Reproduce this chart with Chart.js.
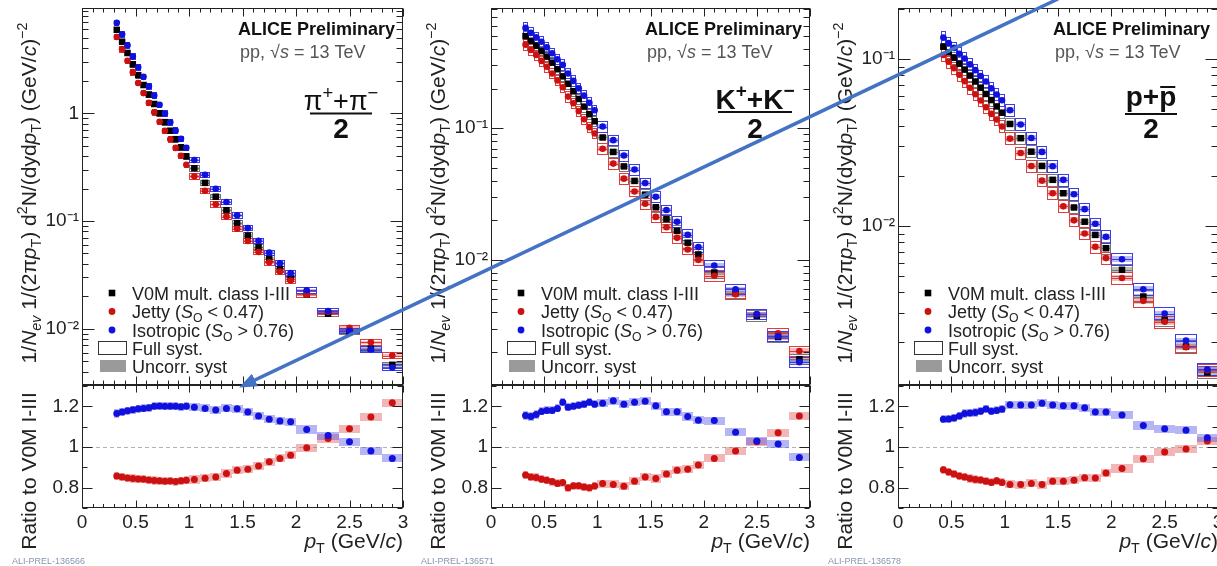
<!DOCTYPE html>
<html>
<head>
<meta charset="utf-8">
<script src="https://cdn.jsdelivr.net/npm/chart.js@4"></script>
<style>
  body { margin: 0; width: 1217px; height: 566px; overflow: hidden; background: #fff; position: relative; }
  canvas { position: absolute; }
  #arrow { position: absolute; left: 0; top: 0; }
</style>
</head>
<body>
<svg id="arrow" width="1217" height="566">
  <defs>
    <marker id="ah" markerWidth="5" markerHeight="4" refX="0.3" refY="2" orient="auto" markerUnits="strokeWidth">
      <path d="M0,0 L5,2 L0,4 z" fill="#4472C4"></path>
    </marker>
  </defs>
  <line x1="1058" y1="-1" x2="254" y2="380.5" stroke="#4472C4" stroke-width="3.5" marker-end="url(#ah)"></line>
</svg>
<script>
// pT bin centres and widths (GeV/c)
const piPt = [0.325,0.375,0.425,0.475,0.525,0.575,0.625,0.675,0.725,0.775,0.825,0.875,0.925,0.975,1.05,1.15,1.25,1.35,1.45,1.55,1.65,1.75,1.85,1.95,2.1,2.3,2.5,2.7,2.9];
const piW  = [0.05,0.05,0.05,0.05,0.05,0.05,0.05,0.05,0.05,0.05,0.05,0.05,0.05,0.05,0.1,0.1,0.1,0.1,0.1,0.1,0.1,0.1,0.1,0.1,0.2,0.2,0.2,0.2,0.2];
const kPt  = [0.325,0.375,0.425,0.475,0.525,0.575,0.625,0.675,0.725,0.775,0.825,0.875,0.925,0.975,1.05,1.15,1.25,1.35,1.45,1.55,1.65,1.75,1.85,1.95,2.1,2.3,2.5,2.7,2.9];
const kW   = [0.05,0.05,0.05,0.05,0.05,0.05,0.05,0.05,0.05,0.05,0.05,0.05,0.05,0.05,0.1,0.1,0.1,0.1,0.1,0.1,0.1,0.1,0.1,0.1,0.2,0.2,0.2,0.2,0.2];
const pPt  = [0.425,0.475,0.525,0.575,0.625,0.675,0.725,0.775,0.825,0.875,0.925,0.975,1.05,1.15,1.25,1.35,1.45,1.55,1.65,1.75,1.85,1.95,2.1,2.3,2.5,2.7,2.9];
const pW   = [0.05,0.05,0.05,0.05,0.05,0.05,0.05,0.05,0.05,0.05,0.05,0.05,0.1,0.1,0.1,0.1,0.1,0.1,0.1,0.1,0.1,0.1,0.2,0.2,0.2,0.2,0.2];

// spectra 1/Nev 1/(2pi pT) d2N/(dy dpT)
const piV0M   = [5.96,4.62,3.63,2.85,2.26,1.83,1.49,1.22,1.00,0.828,0.689,0.575,0.483,0.398,0.309,0.226,0.168,0.126,0.0955,0.0733,0.0569,0.0447,0.0359,0.0292,0.0209,0.0138,0.00933,0.00653,0.00462];
const piJetty = [5.11,3.94,3.08,2.41,1.91,1.54,1.25,1.02,0.834,0.689,0.574,0.477,0.403,0.333,0.260,0.191,0.143,0.110,0.0846,0.0653,0.0516,0.0414,0.0339,0.0280,0.0208,0.0144,0.0102,0.00749,0.00563];
const piIso   = [6.94,5.41,4.28,3.37,2.68,2.18,1.78,1.46,1.20,0.994,0.827,0.690,0.579,0.478,0.369,0.269,0.199,0.150,0.113,0.0859,0.0655,0.0508,0.0405,0.0328,0.0227,0.0146,0.00957,0.0064,0.00436];
const kV0M    = [0.501,0.462,0.424,0.386,0.350,0.315,0.281,0.248,0.218,0.191,0.167,0.146,0.128,0.113,0.0851,0.0661,0.0513,0.0398,0.0313,0.0251,0.0204,0.0166,0.0135,0.0110,0.00802,0.00558,0.00376,0.00259,0.00176];
const kJetty  = [0.432,0.394,0.360,0.325,0.293,0.261,0.231,0.205,0.174,0.155,0.135,0.117,0.102,0.0913,0.0698,0.0539,0.0414,0.0331,0.0267,0.0212,0.0177,0.0147,0.0120,0.0100,0.00757,0.00547,0.00386,0.00277,0.00203];
const kIso    = [0.579,0.531,0.492,0.454,0.413,0.372,0.334,0.303,0.261,0.229,0.201,0.177,0.156,0.137,0.103,0.0812,0.0621,0.0486,0.0383,0.0302,0.0239,0.0195,0.0155,0.0125,0.00906,0.00598,0.00387,0.00263,0.00167];
const pV0M    = [0.119,0.110,0.102,0.0940,0.0867,0.0798,0.0735,0.0675,0.0619,0.0569,0.0521,0.0478,0.0409,0.0336,0.0279,0.0229,0.0189,0.0157,0.0129,0.0106,0.00883,0.00735,0.00545,0.00377,0.00273,0.00189,0.00132];
const pJetty  = [0.106,0.0965,0.0884,0.0807,0.0739,0.0674,0.0617,0.0566,0.0515,0.0470,0.0435,0.0395,0.0334,0.0274,0.0229,0.0187,0.0157,0.0131,0.0108,0.0090,0.00749,0.00641,0.00487,0.00355,0.00266,0.00187,0.00136];
const pIso    = [0.135,0.125,0.117,0.108,0.101,0.0931,0.0860,0.0794,0.0735,0.0669,0.0615,0.0567,0.0494,0.0406,0.0337,0.0278,0.0228,0.0189,0.0155,0.0126,0.0103,0.00861,0.00631,0.00417,0.00298,0.00205,0.00138];

// ratios to V0M I-III
const piJettyRatio = [0.857,0.853,0.848,0.845,0.843,0.842,0.838,0.835,0.834,0.832,0.833,0.83,0.834,0.836,0.84,0.846,0.853,0.87,0.886,0.891,0.906,0.927,0.944,0.96,0.996,1.042,1.09,1.147,1.218];
const piIsoRatio   = [1.165,1.172,1.178,1.183,1.188,1.19,1.193,1.2,1.202,1.2,1.2,1.2,1.198,1.2,1.195,1.19,1.182,1.19,1.188,1.172,1.152,1.136,1.128,1.124,1.086,1.056,1.026,0.98,0.944];
const kJettyRatio  = [0.862,0.852,0.85,0.842,0.837,0.83,0.821,0.825,0.80,0.81,0.81,0.803,0.80,0.808,0.82,0.816,0.807,0.832,0.853,0.845,0.867,0.886,0.89,0.911,0.944,0.98,1.026,1.07,1.152];
const kIsoRatio    = [1.155,1.15,1.16,1.175,1.18,1.18,1.19,1.22,1.195,1.2,1.205,1.21,1.22,1.21,1.215,1.228,1.21,1.22,1.225,1.203,1.174,1.174,1.15,1.132,1.13,1.072,1.03,1.015,0.949];
const pJettyRatio  = [0.888,0.877,0.867,0.858,0.852,0.845,0.84,0.838,0.832,0.826,0.834,0.826,0.816,0.815,0.821,0.815,0.832,0.832,0.836,0.849,0.848,0.872,0.894,0.942,0.975,0.99,1.03];
const pIsoRatio    = [1.136,1.138,1.143,1.152,1.165,1.167,1.17,1.176,1.187,1.176,1.18,1.186,1.208,1.207,1.207,1.215,1.207,1.203,1.203,1.193,1.172,1.172,1.158,1.106,1.09,1.083,1.045];

// relative systematic uncertainties
const sysFull  = { pi: 0.07, k: 0.10, p: 0.09 };
const sysUnc   = { pi: 0.03, k: 0.045, p: 0.04 };
const ratioUnc = 0.02;

// tick labels
const decadeValues = [1, 0.1, 0.01];
const decadeLabels = ['1', '10⁻¹', '10⁻²'];
const ratioTicks = [0.8, 1, 1.2];
const ratioTickLabels = ['0.8', '1', '1.2'];
const xTicks = [0, 0.5, 1, 1.5, 2, 2.5, 3];
const xTickLabels = ['0', '0.5', '1', '1.5', '2', '2.5', '3'];

const FONT = '"Liberation Sans", Arial, Helvetica, sans-serif';
const RED = '#cc1111', BLUE = '#1111dd';

const panels = [
  { id: 'pi', L: 82,  R: 403,  pt: piPt, w: piW, v0m: piV0M, jet: piJetty, iso: piIso, rj: piJettyRatio, ri: piIsoRatio, yMin: 0.003,  yMax: 9.5,  tag: 'ALI-PREL-136566' },
  { id: 'k',  L: 491, R: 810,  pt: kPt,  w: kW,  v0m: kV0M,  jet: kJetty,  iso: kIso,  rj: kJettyRatio,  ri: kIsoRatio,  yMin: 0.00112, yMax: 0.82, tag: 'ALI-PREL-136571' },
  { id: 'p',  L: 898, R: 1218, pt: pPt,  w: pW,  v0m: pV0M,  jet: pJetty,  iso: pIso,  rj: pJettyRatio,  ri: pIsoRatio,  yMin: 0.00111, yMax: 0.203, tag: 'ALI-PREL-136578' }
];

// text with italic / sub / superscript pieces: [text, flags]
function drawRich(ctx, segs, x, y, size, align, color) {
  let total = 0;
  const parts = segs.map(([t, f = '']) => {
    const small = f.includes('^') || f.includes('_');
    const s = small ? size * 0.68 : size;
    const font = (f.includes('i') ? 'italic ' : '') + (f.includes('b') ? 'bold ' : '') + s + 'px ' + FONT;
    ctx.font = font;
    const w = ctx.measureText(t).width;
    const dy = f.includes('^') ? -size * 0.42 : f.includes('_') ? size * 0.24 : 0;
    total += w;
    return { t, font, w, dy };
  });
  let cx = align === 'center' ? x - total / 2 : align === 'right' ? x - total : x;
  ctx.fillStyle = color;
  ctx.textAlign = 'left';
  ctx.textBaseline = 'alphabetic';
  parts.forEach(p => { ctx.font = p.font; ctx.fillText(p.t, cx, y + p.dy); cx += p.w; });
  return total;
}

function drawFrame(chart, o) {
  const { ctx, chartArea: a, scales: { x, y } } = chart;
  const L = Math.round(a.left) + 0.5, R = Math.round(a.right) - 0.5;
  const T = Math.round(a.top) + 0.5, B = Math.round(a.bottom) - 0.5;
  ctx.save();
  ctx.strokeStyle = '#222';
  ctx.lineWidth = 1;
  ctx.strokeRect(L, T, R - L, B - T);
  ctx.beginPath();
  for (let i = 0; i <= 30; i++) {
    const px = Math.round(x.getPixelForValue(i / 10)) + 0.5;
    const len = i % 5 === 0 ? o.xMaj : o.xMin;
    ctx.moveTo(px, B); ctx.lineTo(px, B - len);
    ctx.moveTo(px, T); ctx.lineTo(px, T + len);
  }
  const yt = [];
  if (o.log) {
    for (let e = -4; e <= 1; e++) for (let m = 1; m <= 9; m++) yt.push([m * Math.pow(10, e), m === 1]);
  } else {
    for (let k = 7; k <= 13; k++) yt.push([k / 10, k % 2 === 0]);
  }
  yt.forEach(([v, major]) => {
    if (v < y.min || v > y.max) return;
    const py = Math.round(y.getPixelForValue(v)) + 0.5;
    const len = major ? o.yMaj : o.yMin;
    ctx.moveTo(L, py); ctx.lineTo(L + len, py);
    ctx.moveTo(R, py); ctx.lineTo(R - len, py);
  });
  ctx.stroke();
  ctx.restore();
}

function drawBoxes(chart, ratio) {
  const { ctx, chartArea: a, scales: { x, y } } = chart;
  ctx.save();
  ctx.beginPath();
  ctx.rect(a.left, a.top, a.right - a.left, a.bottom - a.top);
  ctx.clip();
  chart.data.datasets.forEach(ds => {
    const s = ds.sys;
    ds.data.forEach((p, i) => {
      const w = s.w[i];
      const x0 = Math.round(x.getPixelForValue(p.x - w / 2));
      const x1 = Math.round(x.getPixelForValue(p.x + w / 2));
      const yv = f => ratio ? y.getPixelForValue(p.y + f) : y.getPixelForValue(p.y * (1 + f));
      const u0 = Math.round(yv(s.unc)), u1 = Math.round(yv(-s.unc));
      ctx.fillStyle = s.fill;
      ctx.fillRect(x0, u0, x1 - x0, u1 - u0);
      if (!ratio) {
        const f0 = Math.round(yv(s.full)), f1 = Math.round(yv(-s.full));
        ctx.strokeStyle = s.stroke;
        ctx.lineWidth = 1;
        ctx.strokeRect(x0 + 0.5, f0 + 0.5, x1 - x0 - 1, f1 - f0 - 1);
        const py = Math.round(y.getPixelForValue(p.y)) + 0.5;
        ctx.beginPath(); ctx.moveTo(x0, py); ctx.lineTo(x1, py); ctx.stroke();
      }
    });
  });
  ctx.restore();
}

function drawParticle(ctx, id, right) {
  ctx.save();
  ctx.strokeStyle = '#111';
  ctx.lineWidth = 2;
  if (id === 'pi') {
    const cx = right - 62;
    drawRich(ctx, [['π'], ['+', '^'], ['+'], ['π'], ['−', '^']], cx, 110, 27, 'center', '#111');
    ctx.beginPath(); ctx.moveTo(cx - 31, 113.5); ctx.lineTo(cx + 31, 113.5); ctx.stroke();
    drawRich(ctx, [['2', 'b']], cx, 138, 28, 'center', '#111');
  } else if (id === 'k') {
    const cx = right - 55;
    drawRich(ctx, [['K', 'b'], ['+', 'b^'], ['+', 'b'], ['K', 'b'], ['−', 'b^']], cx, 109, 28, 'center', '#111');
    ctx.beginPath(); ctx.moveTo(cx - 37, 112); ctx.lineTo(cx + 37, 112); ctx.stroke();
    drawRich(ctx, [['2', 'b']], cx, 138, 28, 'center', '#111');
  } else {
    const cx = right - 67;
    ctx.font = 'bold 28px ' + FONT;
    const w1 = ctx.measureText('p+').width, w2 = ctx.measureText('p').width;
    const x0 = cx - (w1 + w2) / 2;
    ctx.fillStyle = '#111';
    ctx.textAlign = 'left';
    ctx.textBaseline = 'alphabetic';
    ctx.fillText('p+p', x0, 106);
    ctx.beginPath(); ctx.moveTo(x0 + w1 + 1, 87); ctx.lineTo(x0 + w1 + w2 - 1, 87); ctx.stroke();
    ctx.beginPath(); ctx.moveTo(cx - 26, 114); ctx.lineTo(cx + 26, 114); ctx.stroke();
    drawRich(ctx, [['2', 'b']], cx, 138, 28, 'center', '#111');
  }
  ctx.restore();
}

function drawLegend(ctx, left) {
  const mx = left + 30, tx = left + 50;
  const rows = [293, 311.5, 330, 348, 366];
  ctx.save();
  ctx.fillStyle = '#000';
  ctx.fillRect(mx - 3.3, rows[0] - 3.3, 6.6, 6.6);
  ctx.fillStyle = RED;
  ctx.beginPath(); ctx.arc(mx, rows[1], 3.4, 0, 2 * Math.PI); ctx.fill();
  ctx.fillStyle = BLUE;
  ctx.beginPath(); ctx.arc(mx, rows[2], 3.4, 0, 2 * Math.PI); ctx.fill();
  ctx.strokeStyle = '#333';
  ctx.lineWidth = 1;
  ctx.strokeRect(left + 16.5, rows[3] - 6.5, 28, 13);
  ctx.fillStyle = '#9a9a9a';
  ctx.fillRect(left + 18, rows[4] - 6, 26, 12);
  const labels = [
    [['V0M mult. class I-III']],
    [['Jetty ('], ['S', 'i'], ['O', '_'], [' < 0.47)']],
    [['Isotropic ('], ['S', 'i'], ['O', '_'], [' > 0.76)']],
    [['Full syst.']],
    [['Uncorr. syst']]
  ];
  labels.forEach((segs, i) => drawRich(ctx, segs, tx, rows[i] + 6.5, 18, 'left', '#222'));
  ctx.restore();
}

function points(pt, vals) {
  return pt.map((x, i) => ({ x, y: vals[i] }));
}

function series(label, pt, vals, style, color, radius, order, sys) {
  return {
    label, data: points(pt, vals), pointStyle: style, pointRadius: radius,
    backgroundColor: color, borderColor: color, pointBorderWidth: 0, order, sys
  };
}

const tickFont = { family: FONT, size: 19 };

function makeUpper(P) {
  const cv = document.createElement('canvas');
  const left = P.L - 82;
  const w = P.R - left + 8;
  cv.width = w; cv.height = 392;
  cv.style.left = left + 'px'; cv.style.top = '0px';
  document.body.appendChild(cv);
  const full = sysFull[P.id], unc = sysUnc[P.id];
  new Chart(cv, {
    type: 'scatter',
    data: {
      datasets: [
        series('V0M mult. class I-III', P.pt, P.v0m, 'rect', '#000', 4.6, 3,
          { w: P.w, full, unc, stroke: '#777', fill: 'rgba(90,90,90,0.4)' }),
        series('Jetty', P.pt, P.jet, 'circle', RED, 3.3, 2,
          { w: P.w, full, unc, stroke: '#e23b3b', fill: 'rgba(220,60,60,0.35)' }),
        series('Isotropic', P.pt, P.iso, 'circle', BLUE, 3.3, 1,
          { w: P.w, full, unc, stroke: '#3b3bf0', fill: 'rgba(60,60,235,0.35)' })
      ]
    },
    options: {
      responsive: false, animation: false, events: [],
      layout: { padding: { left: 0, right: 8, top: 8, bottom: 7 } },
      plugins: { legend: { display: false }, tooltip: { enabled: false } },
      scales: {
        x: { type: 'linear', min: 0, max: 3, display: false },
        y: {
          type: 'logarithmic', min: P.yMin, max: P.yMax,
          grid: { display: false, drawTicks: false }, border: { display: false },
          afterBuildTicks: s => { s.ticks = decadeValues.filter(v => v >= s.min && v <= s.max).map(v => ({ value: v })); },
          afterFit: s => { s.width = 82; s.paddingTop = 0; s.paddingBottom = 0; },
          ticks: { autoSkip: false, padding: 3, color: '#222', font: tickFont,
            callback: v => decadeLabels[decadeValues.indexOf(v)] }
        }
      }
    },
    plugins: [{
      id: 'decoUpper',
      beforeDatasetsDraw: c => drawBoxes(c, false),
      afterDraw: c => {
        const ctx = c.ctx, a = c.chartArea;
        drawFrame(c, { log: true, xMaj: 8, xMin: 4, yMaj: 12, yMin: 6 });
        drawRich(ctx, [['ALICE Preliminary', 'b']], a.right - 8, 35, 18, 'right', '#111');
        drawRich(ctx, [['pp, √'], ['s', 'i'], [' = 13 TeV']], a.right - 163, 58, 18, 'left', '#555');
        drawParticle(ctx, P.id, a.right);
        drawLegend(ctx, a.left);
        ctx.save();
        ctx.translate(a.left - 46, 193);
        ctx.rotate(-Math.PI / 2);
        drawRich(ctx, [['1/'], ['N', 'i'], ['ev', 'i_'], [' 1/(2π'], ['p', 'i'], ['T', '_'], [') d'], ['2', '^'],
          ['N/(dyd'], ['p', 'i'], ['T', '_'], [') (GeV/'], ['c', 'i'], [')'], ['−2', '^']], 0, 0, 21, 'center', '#222');
        ctx.restore();
      }
    }]
  });
}

function makeRatio(P) {
  const cv = document.createElement('canvas');
  const left = P.L - 82;
  const w = P.R - left + 8;
  cv.width = w; cv.height = 188;
  cv.style.left = left + 'px'; cv.style.top = '378px';
  document.body.appendChild(cv);
  new Chart(cv, {
    type: 'scatter',
    data: {
      datasets: [
        series('Jetty', P.pt, P.rj, 'circle', RED, 3.5, 2, { w: P.w, unc: ratioUnc, fill: 'rgba(225,80,80,0.42)' }),
        series('Isotropic', P.pt, P.ri, 'circle', BLUE, 3.5, 1, { w: P.w, unc: ratioUnc, fill: 'rgba(80,80,235,0.42)' })
      ]
    },
    options: {
      responsive: false, animation: false, events: [],
      layout: { padding: { left: 0, right: 8, top: 7, bottom: 0 } },
      plugins: { legend: { display: false }, tooltip: { enabled: false } },
      scales: {
        x: {
          type: 'linear', min: 0, max: 3,
          grid: { display: false, drawTicks: false }, border: { display: false },
          afterBuildTicks: s => { s.ticks = xTicks.map(v => ({ value: v })); },
          afterFit: s => { s.height = 58; s.paddingLeft = 0; s.paddingRight = 0; },
          ticks: { autoSkip: false, maxRotation: 0, padding: 3, color: '#222', font: tickFont,
            callback: v => xTickLabels[xTicks.indexOf(v)] }
        },
        y: {
          type: 'linear', min: 0.7, max: 1.305,
          grid: { display: false, drawTicks: false }, border: { display: false },
          afterBuildTicks: s => { s.ticks = ratioTicks.map(v => ({ value: v })); },
          afterFit: s => { s.width = 82; s.paddingTop = 0; s.paddingBottom = 0; },
          ticks: { autoSkip: false, padding: 3, color: '#222', font: tickFont,
            callback: v => ratioTickLabels[ratioTicks.indexOf(v)] }
        }
      }
    },
    plugins: [{
      id: 'decoRatio',
      beforeDatasetsDraw: c => {
        const { ctx, chartArea: a, scales: { y } } = c;
        const py = Math.round(y.getPixelForValue(1)) + 0.5;
        ctx.save();
        ctx.strokeStyle = '#b0b0b0';
        ctx.setLineDash([4, 3]);
        ctx.beginPath(); ctx.moveTo(a.left, py); ctx.lineTo(a.right, py); ctx.stroke();
        ctx.restore();
        drawBoxes(c, true);
      },
      afterDraw: c => {
        const ctx = c.ctx, a = c.chartArea;
        drawFrame(c, { log: false, xMaj: 7, xMin: 3.5, yMaj: 10, yMin: 5 });
        drawRich(ctx, [['p', 'i'], ['T', '_'], [' (GeV/'], ['c', 'i'], [')']], a.right, 170, 21, 'right', '#222');
        ctx.save();
        ctx.translate(a.left - 46, 93);
        ctx.rotate(-Math.PI / 2);
        drawRich(ctx, [['Ratio to V0M I-III']], 0, 0, 21, 'center', '#222');
        ctx.restore();
        ctx.font = '9px ' + FONT;
        ctx.fillStyle = '#8596b0';
        ctx.textAlign = 'left';
        ctx.fillText(P.tag, a.left - 70, 186);
      }
    }]
  });
}

panels.forEach(P => { makeUpper(P); makeRatio(P); });
document.body.appendChild(document.getElementById('arrow'));
</script>
</body>
</html>
